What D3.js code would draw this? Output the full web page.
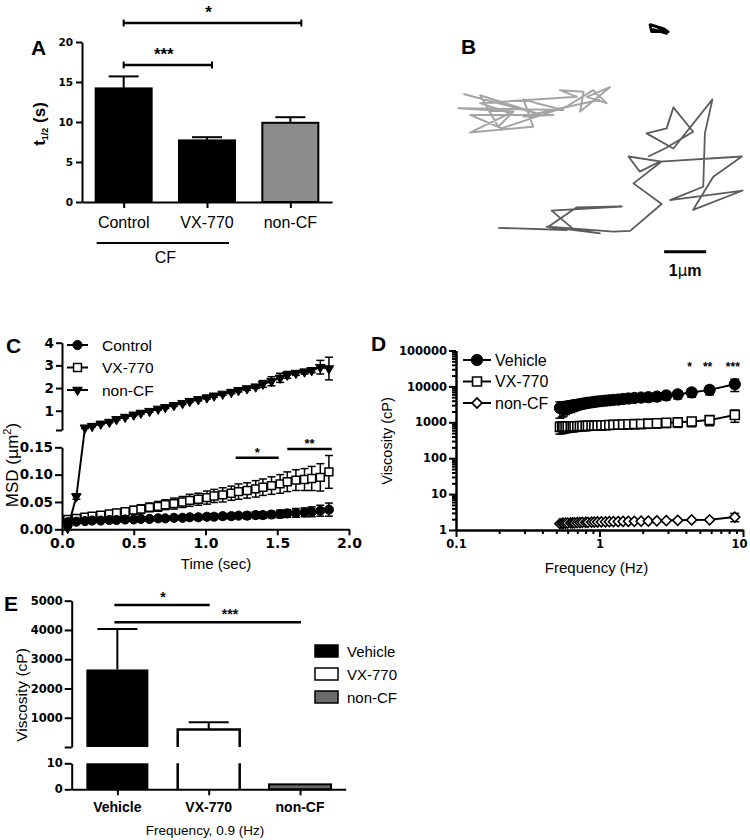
<!DOCTYPE html>
<html><head><meta charset="utf-8">
<script src="https://cdn.jsdelivr.net/npm/d3@7"></script>
<style>body{margin:0;background:#fff}svg{display:block}</style>
</head><body>
<svg id="fig" width="750" height="840"></svg>
<script>
// ---------------- DATA ----------------
// Panel A
const aCategories = ["Control", "VX-770", "non-CF"];
const aMeans = [14.2, 7.7, 9.9];
const aSEM = [1.5, 0.4, 0.7];
const aTicks = [0, 5, 10, 15, 20];
const aSig = [["Control", "VX-770", "***"], ["Control", "non-CF", "*"]];

// Panel B (trajectories, in µm)
const trackLight = [[0.20,1.76],[1.94,2.22],[0.60,1.79],[1.03,2.54],[1.39,2.18],[0.08,2.10],[2.58,2.14],[1.94,1.98],[1.63,1.89],[1.86,2.54],[0.36,2.68],[1.31,2.22],[0.60,1.98],[2.90,1.83],[2.50,1.67],[3.06,1.71],[2.98,2.18],[3.69,1.60],[3.14,1.83],[3.61,1.98],[3.29,1.67],[2.66,2.06],[1.11,2.58],[0.36,2.26],[2.34,2.26],[1.63,2.30],[3.45,1.90]];
const trackDark = [[1.03,4.95],[2.66,5.00],[2.18,4.92],[3.45,5.08],[2.82,4.98],[2.30,4.54],[3.97,4.44],[2.90,4.46],[2.22,4.92],[3.77,5.04],[4.17,5.02],[4.92,4.38],[4.25,3.89],[4.92,3.37],[4.13,3.25],[4.40,3.61],[4.88,3.37],[6.83,3.25],[6.15,3.73],[5.67,4.52],[6.85,4.06],[5.12,4.29],[5.91,3.97],[5.95,2.70],[6.13,1.89],[5.20,3.06],[4.56,2.70],[5.04,2.58],[5.20,2.08],[5.67,2.66],[5.00,3.06],[4.60,3.25]];
const trackBlack = [[4.63,0.10],[4.96,0.20],[5.08,0.28],[4.68,0.28],[4.64,0.12],[4.80,0.16],[5.04,0.32],[4.70,0.22]];
const scaleBarStart = [4.98, 5.52];
const scaleBarLength = 1;

// Panel C
const cTime = [0.04,0.10,0.16,0.21,0.27,0.33,0.38,0.44,0.50,0.55,0.61,0.67,0.72,0.78,0.84,0.89,0.95,1.01,1.06,1.12,1.18,1.23,1.29,1.35,1.40,1.46,1.52,1.57,1.63,1.69,1.74,1.80,1.86];
const cControl = [0.013,0.014,0.015,0.016,0.016,0.017,0.017,0.018,0.018,0.019,0.019,0.020,0.020,0.021,0.021,0.022,0.022,0.023,0.023,0.024,0.024,0.025,0.025,0.026,0.026,0.027,0.028,0.029,0.030,0.031,0.032,0.034,0.036];
const cControlErr = [0.003,0.003,0.003,0.003,0.003,0.003,0.003,0.003,0.003,0.004,0.004,0.004,0.004,0.004,0.004,0.004,0.005,0.005,0.005,0.005,0.005,0.005,0.006,0.006,0.006,0.006,0.007,0.007,0.008,0.008,0.009,0.010,0.012];
const cVX = [0.018,0.020,0.022,0.024,0.026,0.028,0.030,0.032,0.035,0.037,0.040,0.042,0.045,0.047,0.050,0.053,0.055,0.058,0.061,0.063,0.066,0.069,0.071,0.074,0.077,0.080,0.083,0.087,0.090,0.091,0.093,0.095,0.105];
const cVXErr = [0.004,0.004,0.005,0.005,0.005,0.006,0.006,0.007,0.007,0.008,0.008,0.009,0.009,0.010,0.010,0.011,0.011,0.012,0.012,0.013,0.013,0.014,0.014,0.015,0.015,0.016,0.017,0.018,0.019,0.020,0.022,0.025,0.030];
const cNonCF = [0.002,0.06,0.25,0.32,0.42,0.50,0.62,0.72,0.82,0.90,0.98,1.08,1.15,1.24,1.33,1.42,1.50,1.58,1.66,1.74,1.82,1.90,1.98,2.06,2.18,2.30,2.45,2.58,2.66,2.72,2.78,2.92,2.86];
const cNonCFErr = [0.002,0.005,0.03,0.03,0.03,0.03,0.04,0.04,0.04,0.04,0.04,0.05,0.05,0.05,0.05,0.05,0.06,0.06,0.06,0.06,0.07,0.07,0.08,0.08,0.15,0.20,0.20,0.15,0.10,0.10,0.10,0.30,0.50];
const cLowTicks = [0, 0.05, 0.10, 0.15];
const cUpTicks = [1, 2, 3, 4];
const cXTicks = [0, 0.5, 1.0, 1.5, 2.0];
const cSeries = ["Control", "VX-770", "non-CF"];
const cSig = [[1.21, 1.51, "*"], [1.57, 1.88, "**"]];

// Panel D
const dFreq = [0.53,0.55,0.56,0.58,0.60,0.63,0.65,0.67,0.70,0.73,0.76,0.80,0.83,0.88,0.92,0.97,1.03,1.10,1.17,1.25,1.35,1.46,1.59,1.75,1.95,2.19,2.51,2.92,3.51,4.39,5.85,8.77];
const dVehicle = [2500,2550,2600,2700,2780,2870,2950,3020,3100,3200,3300,3400,3500,3600,3700,3800,3900,4000,4100,4200,4300,4450,4600,4750,4900,5000,5200,5600,6000,6800,8000,11500];
const dVehicleErr = [1200,1150,1100,1050,1000,1000,950,950,900,900,900,900,900,900,900,900,900,900,950,950,1000,1000,1050,1100,1150,1200,1300,1400,1500,1800,2200,4300];
const dVX = [740,745,750,755,760,765,770,775,780,785,790,795,800,805,810,815,820,830,840,850,860,870,880,890,900,920,940,970,1000,1050,1150,1600];
const dVXErr = [270,260,250,245,240,235,230,225,220,215,210,210,205,205,200,200,200,200,200,205,210,215,220,225,230,240,250,260,280,300,350,600];
const dNonCF = [1.50,1.52,1.54,1.55,1.56,1.57,1.58,1.59,1.60,1.61,1.62,1.63,1.64,1.65,1.66,1.67,1.68,1.69,1.70,1.71,1.72,1.73,1.74,1.75,1.76,1.78,1.80,1.83,1.86,1.90,1.92,2.30];
const dNonCFErr = [0.08,0.07,0.06,0.05,0.05,0.05,0.05,0.05,0.05,0.05,0.05,0.05,0.05,0.05,0.05,0.05,0.05,0.05,0.05,0.05,0.05,0.05,0.05,0.05,0.05,0.06,0.06,0.07,0.08,0.10,0.12,0.60];
const dYTicks = [1, 10, 100, 1000, 10000, 100000];
const dXTicks = [0.1, 1, 10];
const dSeries = ["Vehicle", "VX-770", "non-CF"];
const dSig = [[4.39, "*"], [5.85, "**"], [8.77, "***"]];

// Panel E
const eCategories = ["Vehicle", "VX-770", "non-CF"];
const eMeans = [2650, 600, 1.9];
const eSEM = [1380, 250, 0.1];
const eUpTicks = [1000, 2000, 3000, 4000, 5000];
const eLowTicks = [0, 10];
const eSig = [["Vehicle", "VX-770", "*"], ["Vehicle", "non-CF", "***"]];

// ---------------- STYLE ----------------
const NUM = "'DejaVu Sans', sans-serif";
const TXT = "'Liberation Sans', Arial, sans-serif";
const svg = d3.select("#fig");

function styleAxis(g, size) {
  g.attr("font-family", NUM);
  g.select(".domain").attr("stroke", "#000").attr("stroke-width", 2);
  g.selectAll(".tick line").attr("stroke", "#000").attr("stroke-width", 2);
  g.selectAll(".tick text").attr("font-family", NUM).attr("font-weight", "bold")
    .attr("font-size", size).attr("fill", "#000");
  return g;
}
function label(x, y, txt, opts = {}) {
  const t = svg.append("text").attr("x", x).attr("y", y).text(txt)
    .attr("font-family", opts.family || TXT).attr("font-size", opts.size || 15)
    .attr("font-weight", opts.weight || "normal").attr("text-anchor", opts.anchor || "middle")
    .attr("fill", "#000");
  if (opts.rotate) t.attr("transform", `rotate(-90,${x},${y})`);
  return t;
}
function panelLetter(x, y, l) { label(x, y, l, { size: 21, weight: "bold", anchor: "start" }); }

// ================= PANEL A =================
{
  const g = svg.append("g");
  const x = d3.scalePoint().domain(aCategories).range([82, 332]).padding(0.5);
  const y = d3.scaleLinear().domain([0, 20]).range([202, 42]);
  const bw = 56, cap = 15;
  const fills = ["#000", "#000", "#8c8c8c"];
  aCategories.forEach((c, i) => {
    g.append("line").attr("x1", x(c)).attr("x2", x(c)).attr("y1", y(aMeans[i])).attr("y2", y(aMeans[i] + aSEM[i]))
      .attr("stroke", "#000").attr("stroke-width", 2);
    g.append("line").attr("x1", x(c) - cap).attr("x2", x(c) + cap).attr("y1", y(aMeans[i] + aSEM[i])).attr("y2", y(aMeans[i] + aSEM[i]))
      .attr("stroke", "#000").attr("stroke-width", 2);
  });
  g.selectAll("rect.bar").data(aCategories).join("rect").attr("class", "bar")
    .attr("x", d => x(d) - bw / 2).attr("width", bw)
    .attr("y", (d, i) => y(aMeans[i])).attr("height", (d, i) => y(0) - y(aMeans[i]))
    .attr("fill", (d, i) => fills[i]).attr("stroke", "#000").attr("stroke-width", 2);
  styleAxis(g.append("g").attr("transform", "translate(82,0)")
    .call(d3.axisLeft(y).tickValues(aTicks).tickSize(6).tickSizeOuter(0).tickPadding(3)), 10.5);
  styleAxis(g.append("g").attr("transform", "translate(0,202)")
    .call(d3.axisBottom(x).tickSize(6).tickSizeOuter(0).tickFormat("")), 10);
  aCategories.forEach(c => label(x(c), 228, c, { size: 16 }));
  g.append("line").attr("x1", x("Control") - 27).attr("x2", x("VX-770") + 22).attr("y1", 243).attr("y2", 243)
    .attr("stroke", "#000").attr("stroke-width", 2);
  label((x("Control") + x("VX-770")) / 2, 263, "CF", { size: 16 });
  const sigY = [65, 23];
  aSig.forEach((s, i) => {
    const x1 = x(s[0]), x2 = x(s[1]) + (i === 0 ? 5 : 11);
    g.append("line").attr("x1", x1).attr("x2", x2).attr("y1", sigY[i]).attr("y2", sigY[i]).attr("stroke", "#000").attr("stroke-width", 2.5);
    [x1, x2].forEach(xx => g.append("line").attr("x1", xx).attr("x2", xx).attr("y1", sigY[i] - 3.5).attr("y2", sigY[i] + 3.5).attr("stroke", "#000").attr("stroke-width", 2));
    label((x1 + x2) / 2 - 4, sigY[i] - 5, s[2], { size: 17, weight: "bold" });
  });
  const t = svg.append("text").attr("transform", "translate(45,124) rotate(-90)").attr("text-anchor", "middle")
    .attr("font-family", TXT).attr("font-weight", "bold").attr("font-size", 17);
  t.append("tspan").text("t");
  t.append("tspan").attr("font-size", 9).attr("dy", 3).text("1/2");
  t.append("tspan").attr("dy", -3).text(" (s)");
  panelLetter(31, 55, "A");
}

// ================= PANEL B =================
{
  const g = svg.append("g");
  const x = d3.scaleLinear().domain([0, 7]).range([455, 749]);
  const y = d3.scaleLinear().domain([0, 6]).range([20, 272]);
  const line = d3.line().x(d => x(d[0])).y(d => y(d[1]));
  g.append("path").datum(trackLight).attr("d", line).attr("fill", "none").attr("stroke", "#a4a4a4").attr("stroke-width", 2).attr("stroke-linejoin", "round");
  g.append("path").datum(trackDark).attr("d", line).attr("fill", "none").attr("stroke", "#5c5c5c").attr("stroke-width", 1.8).attr("stroke-linejoin", "round");
  g.append("path").datum(trackBlack).attr("d", line).attr("fill", "none").attr("stroke", "#000").attr("stroke-width", 2.5).attr("stroke-linejoin", "round");
  g.append("line").attr("x1", x(scaleBarStart[0])).attr("x2", x(scaleBarStart[0] + scaleBarLength))
    .attr("y1", y(scaleBarStart[1])).attr("y2", y(scaleBarStart[1])).attr("stroke", "#000").attr("stroke-width", 3);
  const t = svg.append("text").attr("x", x(scaleBarStart[0] + scaleBarLength / 2)).attr("y", 276).attr("text-anchor", "middle")
    .attr("font-family", TXT).attr("font-weight", "bold").attr("font-size", 16);
  t.append("tspan").text("1");
  t.append("tspan").attr("font-family", "'DejaVu Sans', sans-serif").attr("font-weight", "normal").attr("font-size", 15).text("μ");
  t.append("tspan").text("m");
  panelLetter(461, 54, "B");
}

// ================= PANEL C =================
{
  const g = svg.append("g");
  const x = d3.scaleLinear().domain([0, 2]).range([62, 349]);
  const yLow = d3.scaleLinear().domain([0, 0.15]).range([529.3, 447.3]);
  const yUp = d3.scaleLinear().domain([0.15, 4]).range([430, 342.7]);
  const yv = v => v <= 0.15 ? yLow(v) : yUp(v);
  const cap = 4;
  const sym = {
    "Control": d3.symbol().type(d3.symbolCircle).size(66),
    "VX-770": d3.symbol().type(d3.symbolSquare).size(62),
    "non-CF": d3.symbol().type(d3.symbolTriangle).size(40)
  };
  const symFill = { "Control": "#000", "VX-770": "#fff", "non-CF": "#000" };
  const dataC = { "Control": [cControl, cControlErr], "VX-770": [cVX, cVXErr], "non-CF": [cNonCF, cNonCFErr] };
  const order = ["VX-770", "Control", "non-CF"];
  const line = d3.line().x((d, i) => x(cTime[i])).y(d => yv(d));
  function drawMarker(sel, s, px, py) {
    const p = sel.append("path").attr("d", sym[s]()).attr("fill", symFill[s]).attr("stroke", "#000").attr("stroke-width", s === "VX-770" ? 1.5 : 1);
    p.attr("transform", `translate(${px},${py})` + (s === "non-CF" ? " rotate(180)" : ""));
  }
  order.forEach(s => {
    const [vals, errs] = dataC[s];
    const eg = g.append("g").attr("stroke", "#000").attr("stroke-width", 1.5);
    vals.forEach((v, i) => {
      if (v > 0.15 && v - errs[i] <= 0.15) return;
      const lo = yv(v - errs[i]), hi = yv(v + errs[i]), xx = x(cTime[i]);
      eg.append("line").attr("x1", xx).attr("x2", xx).attr("y1", lo).attr("y2", hi);
      eg.append("line").attr("x1", xx - cap).attr("x2", xx + cap).attr("y1", lo).attr("y2", lo);
      eg.append("line").attr("x1", xx - cap).attr("x2", xx + cap).attr("y1", hi).attr("y2", hi);
    });
    g.append("path").datum(vals).attr("d", line).attr("fill", "none").attr("stroke", "#000").attr("stroke-width", 2);
    const mg = g.append("g");
    vals.forEach((v, i) => drawMarker(mg, s, x(cTime[i]), yv(v)));
  });
  styleAxis(g.append("g").attr("transform", "translate(62,0)")
    .call(d3.axisLeft(yLow).tickValues(cLowTicks).tickFormat(d3.format(".2f")).tickSize(7).tickSizeOuter(0).tickPadding(2)), 13.5);
  styleAxis(g.append("g").attr("transform", "translate(62,0)")
    .call(d3.axisLeft(yUp).tickValues([0.15].concat(cUpTicks)).tickFormat(d => d === 0.15 ? "" : d).tickSize(6).tickSizeOuter(0).tickPadding(2)), 13.5);
  styleAxis(g.append("g").attr("transform", "translate(0,529.3)")
    .call(d3.axisBottom(x).tickValues(cXTicks).tickFormat(d3.format(".1f")).tickSize(6).tickSizeOuter(0).tickPadding(3)), 14);
  const ly = [345, 367.5, 390];
  cSeries.forEach((s, i) => {
    g.append("line").attr("x1", 67).attr("x2", 88).attr("y1", ly[i]).attr("y2", ly[i]).attr("stroke", "#000").attr("stroke-width", 2);
    drawMarker(g, s, 77.5, ly[i]);
    label(102, ly[i] + 5.5, s, { size: 15.5, anchor: "start" });
  });
  const sy = [457.7, 449];
  cSig.forEach((s, i) => {
    g.append("line").attr("x1", x(s[0])).attr("x2", x(s[1])).attr("y1", sy[i]).attr("y2", sy[i]).attr("stroke", "#000").attr("stroke-width", 2.5);
    label((x(s[0]) + x(s[1])) / 2, sy[i] - 1, s[2], { size: 13, weight: "bold" });
  });
  label(216, 569, "Time (sec)", { size: 15 });
  const t = svg.append("text").attr("transform", "translate(18,465) rotate(-90)").attr("text-anchor", "middle")
    .attr("font-family", TXT).attr("font-size", 17);
  t.append("tspan").text("MSD (");
  t.append("tspan").attr("font-family", "'DejaVu Sans', sans-serif").attr("font-size", 16).text("μ");
  t.append("tspan").text("m");
  t.append("tspan").attr("font-size", 11).attr("dy", -7).text("2");
  t.append("tspan").attr("dy", 7).text(")");
  panelLetter(6, 353, "C");
}

// ================= PANEL D =================
{
  const g = svg.append("g");
  const x = d3.scaleLog().domain([0.1, 10]).range([456, 743]);
  const y = d3.scaleLog().domain([1, 100000]).range([530, 350.5]);
  const cap = 4.5;
  const sym = {
    "Vehicle": d3.symbol().type(d3.symbolCircle).size(100),
    "VX-770": d3.symbol().type(d3.symbolSquare).size(80),
    "non-CF": d3.symbol().type(d3.symbolSquare).size(50)
  };
  const symFill = { "Vehicle": "#000", "VX-770": "#fff", "non-CF": "#fff" };
  const dataD = { "Vehicle": [dVehicle, dVehicleErr], "VX-770": [dVX, dVXErr], "non-CF": [dNonCF, dNonCFErr] };
  function drawMarker(sel, s, px, py) {
    sel.append("path").attr("d", sym[s]()).attr("fill", symFill[s]).attr("stroke", "#000")
      .attr("stroke-width", s === "Vehicle" ? 1 : 1.6)
      .attr("transform", `translate(${px},${py})` + (s === "non-CF" ? " rotate(45)" : ""));
  }
  const line = d3.line().x((d, i) => x(dFreq[i])).y(d => y(d));
  ["VX-770", "Vehicle", "non-CF"].forEach(s => {
    const [vals, errs] = dataD[s];
    const eg = g.append("g").attr("stroke", "#000").attr("stroke-width", 1.5);
    vals.forEach((v, i) => {
      const lo = y(Math.max(v - errs[i], 1)), hi = y(v + errs[i]), xx = x(dFreq[i]);
      eg.append("line").attr("x1", xx).attr("x2", xx).attr("y1", lo).attr("y2", hi);
      eg.append("line").attr("x1", xx - cap).attr("x2", xx + cap).attr("y1", lo).attr("y2", lo);
      eg.append("line").attr("x1", xx - cap).attr("x2", xx + cap).attr("y1", hi).attr("y2", hi);
    });
    g.append("path").datum(vals).attr("d", line).attr("fill", "none").attr("stroke", "#000").attr("stroke-width", 2);
    const mg = g.append("g");
    vals.forEach((v, i) => drawMarker(mg, s, x(dFreq[i]), y(v)));
  });
  const yMinor = [], xMinor = [];
  dYTicks.slice(0, -1).forEach(d => { for (let m = 2; m <= 9; m++) yMinor.push(d * m); });
  dXTicks.slice(0, -1).forEach(d => { for (let m = 2; m <= 9; m++) xMinor.push(d * m); });
  styleAxis(g.append("g").attr("transform", "translate(456,0)")
    .call(d3.axisLeft(y).tickValues(yMinor).tickFormat("").tickSize(4).tickSizeOuter(0)), 11);
  styleAxis(g.append("g").attr("transform", "translate(456,0)")
    .call(d3.axisLeft(y).tickValues(dYTicks).tickFormat(d3.format("d")).tickSize(7).tickSizeOuter(0).tickPadding(2)), 11.5);
  styleAxis(g.append("g").attr("transform", "translate(0,530)")
    .call(d3.axisBottom(x).tickValues(xMinor).tickFormat("").tickSize(4).tickSizeOuter(0)), 11);
  const xa = styleAxis(g.append("g").attr("transform", "translate(0,530)")
    .call(d3.axisBottom(x).tickValues(dXTicks).tickFormat(d => d === 0.1 ? "0.1" : d3.format("d")(d)).tickSize(7).tickSizeOuter(0).tickPadding(3)), 11.5);
  xa.selectAll(".tick text").filter(d => d === 10).attr("dx", -4);
  const ly = [360, 381.5, 403];
  dSeries.forEach((s, i) => {
    g.append("line").attr("x1", 463).attr("x2", 491).attr("y1", ly[i]).attr("y2", ly[i]).attr("stroke", "#000").attr("stroke-width", 2);
    drawMarker(g, s, 477, ly[i]);
    label(495, ly[i] + 5.5, s, { size: 16, anchor: "start" });
  });
  dSig.forEach(s => label(x(s[0]) - 2, 371, s[1], { size: 12, weight: "bold" }));
  label(596.5, 573, "Frequency (Hz)", { size: 15 });
  label(392, 441, "Viscosity (cP)", { size: 14.5, rotate: true });
  panelLetter(371, 351, "D");
}

// ================= PANEL E =================
{
  const g = svg.append("g");
  const x = d3.scalePoint().domain(eCategories).range([71.7, 345.7]).padding(0.5);
  const yUp = d3.scaleLinear().domain([0, 5000]).range([747, 600.7]);
  const yLow = d3.scaleLinear().domain([0, 10]).range([789.3, 763.3]);
  const bw = 62, cap = 20;
  const fills = ["#000", "#fff", "#6b6b6b"];
  eCategories.forEach((c, i) => {
    if (eMeans[i] <= 10) return;
    g.append("line").attr("x1", x(c)).attr("x2", x(c)).attr("y1", yUp(eMeans[i])).attr("y2", yUp(eMeans[i] + eSEM[i])).attr("stroke", "#000").attr("stroke-width", 2);
    g.append("line").attr("x1", x(c) - cap).attr("x2", x(c) + cap).attr("y1", yUp(eMeans[i] + eSEM[i])).attr("y2", yUp(eMeans[i] + eSEM[i])).attr("stroke", "#000").attr("stroke-width", 2);
  });
  eCategories.forEach((c, i) => {
    const v = eMeans[i], x0 = x(c) - bw / 2;
    if (v > 10) {
      if (fills[i] === "#fff") {
        g.append("path").attr("d", `M${x0},${yUp(0)}V${yUp(v)}H${x0 + bw}V${yUp(0)}`).attr("fill", "#fff").attr("stroke", "#000").attr("stroke-width", 2.5);
        g.append("path").attr("d", `M${x0},${yLow(10)}V${yLow(0)}M${x0 + bw},${yLow(10)}V${yLow(0)}`).attr("stroke", "#000").attr("stroke-width", 2.5);
      } else {
        g.append("rect").attr("x", x0).attr("width", bw).attr("y", yUp(v)).attr("height", yUp(0) - yUp(v)).attr("fill", fills[i]);
        g.append("rect").attr("x", x0).attr("width", bw).attr("y", yLow(10)).attr("height", yLow(0) - yLow(10)).attr("fill", fills[i]);
      }
    } else {
      g.append("rect").attr("x", x0).attr("width", bw).attr("y", yLow(v)).attr("height", yLow(0) - yLow(v)).attr("fill", fills[i]).attr("stroke", "#000").attr("stroke-width", 2);
    }
  });
  styleAxis(g.append("g").attr("transform", "translate(71.7,0)")
    .call(d3.axisLeft(yUp).tickValues([0].concat(eUpTicks)).tickFormat(d => d === 0 ? "" : d).tickSize(7).tickSizeOuter(0).tickPadding(2)), 11.5);
  styleAxis(g.append("g").attr("transform", "translate(71.7,0)")
    .call(d3.axisLeft(yLow).tickValues(eLowTicks).tickSize(7).tickSizeOuter(0).tickPadding(2)), 11.5);
  styleAxis(g.append("g").attr("transform", "translate(0,789.3)")
    .call(d3.axisBottom(x).tickSize(6).tickSizeOuter(0).tickFormat("")), 11);
  eCategories.forEach(c => label(x(c), 812, c, { size: 14, weight: "bold" }));
  label(205, 835, "Frequency, 0.9 (Hz)", { size: 13.5 });
  label(27, 695, "Viscosity (cP)", { size: 15.5, rotate: true });
  const sy = [605, 622.3];
  eSig.forEach((s, i) => {
    const x1 = x(s[0]) - 3, x2 = x(s[1]) + 1;
    g.append("line").attr("x1", x1).attr("x2", x2).attr("y1", sy[i]).attr("y2", sy[i]).attr("stroke", "#000").attr("stroke-width", 2.5);
  });
  label(163, 602, "*", { size: 14, weight: "bold" });
  label(230, 619, "***", { size: 14, weight: "bold" });
  const ly = [651, 674, 697];
  eCategories.forEach((c, i) => {
    g.append("rect").attr("x", 315).attr("y", ly[i] - 6).attr("width", 23).attr("height", 12)
      .attr("fill", fills[i]).attr("stroke", "#000").attr("stroke-width", 1.5);
    label(347, ly[i] + 5.5, c, { size: 15, anchor: "start" });
  });
  panelLetter(4, 611, "E");
}
</script>
</body></html>
